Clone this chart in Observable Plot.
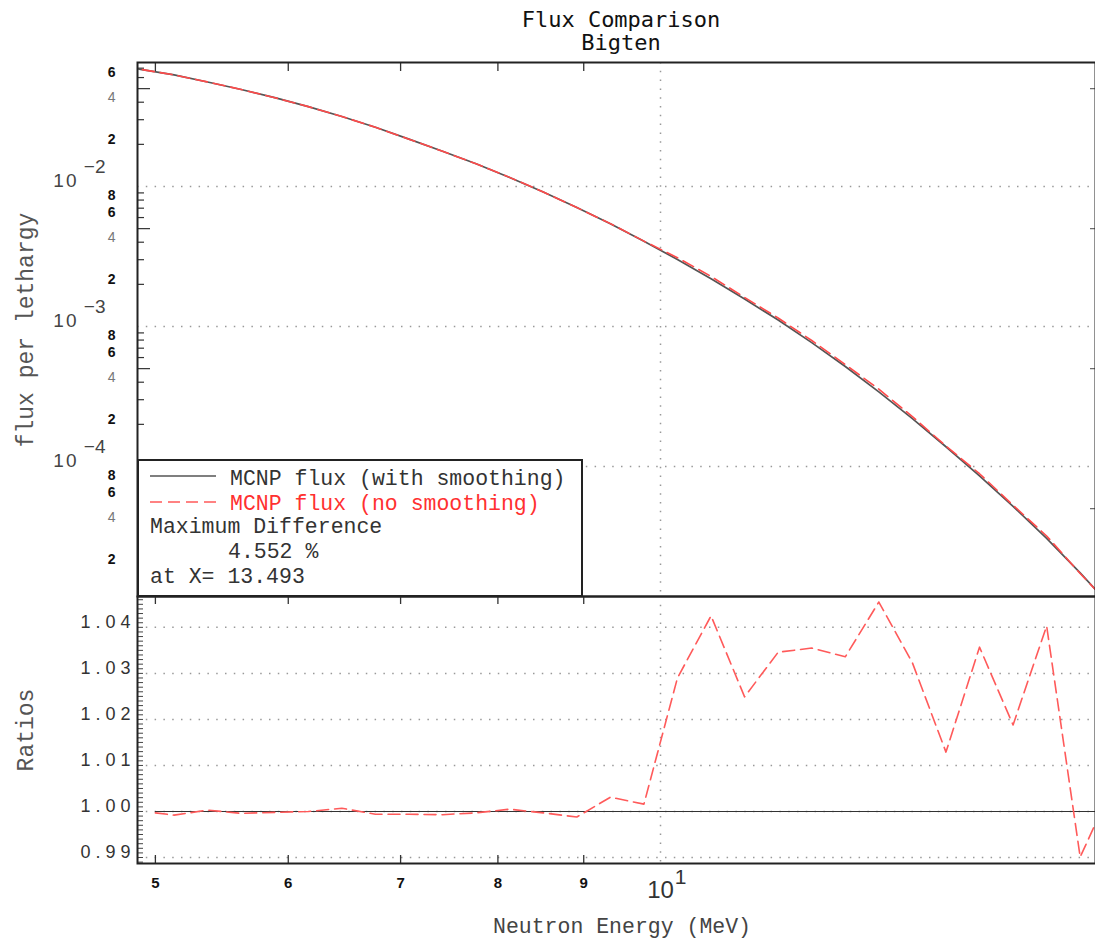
<!DOCTYPE html>
<html>
<head>
<meta charset="utf-8">
<script src="https://cdn.jsdelivr.net/npm/d3@7"></script>
<script src="https://cdn.jsdelivr.net/npm/@observablehq/plot@0.6"></script>
<style>
  html, body { margin: 0; padding: 0; background: #fff; }
  #wrap { position: relative; width: 1095px; height: 941px; overflow: hidden; background: #fff; }
  .abs { position: absolute; white-space: nowrap; }
  .mono { font-family: "Liberation Mono", "DejaVu Sans Mono", monospace; }
  #title { left: 421px; width: 400px; top: 8px; text-align: center; font-family: "DejaVu Sans Mono", monospace; font-size: 22px; line-height: 23px; color: #111; }
  .leg { font-size: 21.5px; line-height: 25px; color: #333; z-index: 5; }
  #legbox { left: 137px; top: 459px; width: 446px; height: 138px; box-sizing: border-box; border: 2px solid #222; background: #fff; z-index: 4; }
  .ytitle { font-size: 23px; color: #555; transform: translate(-50%, -50%) rotate(-90deg); }
</style>
</head>
<body>
<div id="wrap">
  <div id="title" class="abs"><div>Flux Comparison</div><div>Bigten</div></div>
  <div id="topHost" class="abs" style="left:0;top:52px;z-index:1"></div>
  <div id="botHost" class="abs" style="left:0;top:586px;z-index:2"></div>
  <div id="legbox" class="abs"></div>
  <svg class="abs" style="left:150px;top:470px;z-index:5" width="70" height="40">
    <line x1="0" x2="66" y1="6" y2="6" stroke="#555" stroke-width="1.6"></line>
    <line x1="0" x2="66" y1="32" y2="32" stroke="#ff5a5a" stroke-width="1.6" stroke-dasharray="12,6"></line>
  </svg>
  <div class="abs mono leg" style="left:230px;top:467px">MCNP flux (with smoothing)</div>
  <div class="abs mono leg" style="left:230px;top:492px;color:#ff3030">MCNP flux (no smoothing)</div>
  <div class="abs mono leg" style="left:150px;top:515px">Maximum Difference</div>
  <div class="abs mono leg" style="left:228px;top:540px">4.552 %</div>
  <div class="abs mono leg" style="left:150px;top:565px">at X= 13.493</div>
  <div class="abs mono ytitle" style="left:27px;top:330px">flux per lethargy</div>
  <div class="abs mono ytitle" style="left:27px;top:730px">Ratios</div>
  <div class="abs mono" style="left:622px;top:915px;transform:translateX(-50%);font-size:21.5px;line-height:25px;color:#444">Neutron Energy (MeV)</div>
</div>
<script>
// ---------------- data ----------------
const energy = [4.679, 4.899, 5.130, 5.371, 5.625, 5.890, 6.167, 6.458, 6.762, 7.081, 7.415, 7.764, 8.130, 8.514, 8.915, 9.335, 9.775, 10.235, 10.718, 11.223, 11.752, 12.306, 12.886, 13.493, 14.129, 14.795, 15.492, 16.222, 16.987, 17.787, 18.626];
const fluxSmooth = [0.0762, 0.0687, 0.0627, 0.0558, 0.0493, 0.0431, 0.0372, 0.0316, 0.0265, 0.0218, 0.01786, 0.01452, 0.01161, 0.00914, 0.00708, 0.00541, 0.00406, 0.00301, 0.00219, 0.001574, 0.001112, 0.000767, 0.000518, 0.000341, 0.000220, 0.0001384, 0.0000857, 0.0000519, 0.0000307, 0.0000174, 0.00000953];
const fluxNoSmooth = [0.0762, 0.0687, 0.06265, 0.05582, 0.04928, 0.04309, 0.0372, 0.03162, 0.02648, 0.02179, 0.01785, 0.01452, 0.01162, 0.00914, 0.00707, 0.00543, 0.00407, 0.00310, 0.00228, 0.001613, 0.001150, 0.000794, 0.000535, 0.000357, 0.000227, 0.000140, 0.0000888, 0.0000529, 0.0000319, 0.0000172, 0.00000963];
const ratioEnergy = [5.0, 5.130, 5.371, 5.625, 5.890, 6.167, 6.458, 6.762, 7.081, 7.415, 7.764, 8.130, 8.514, 8.915, 9.335, 9.775, 10.235, 10.718, 11.223, 11.752, 12.306, 12.886, 13.493, 14.129, 14.795, 15.492, 16.222, 16.987, 17.787, 18.626];
const ratioNoSmooth = [0.9997, 0.9992, 1.0003, 0.9996, 0.9998, 1.0000, 1.0007, 0.9994, 0.9994, 0.9993, 0.9997, 1.0005, 0.9997, 0.9988, 1.0031, 1.0016, 1.0290, 1.0425, 1.0249, 1.0346, 1.0355, 1.0336, 1.0455, 1.0323, 1.0129, 1.0357, 1.0188, 1.0403, 0.9901, 1.006];
const ratioSmooth = 1.0;

// ---------------- tick labels ----------------
const xTickValues = [5, 6, 7, 8, 9];
const xDecade = [10];
const fluxDecades = [1e-2, 1e-3, 1e-4];
const fluxLabelDark = [0.06, 0.02, 0.008, 0.006, 0.002, 0.0008, 0.0006, 0.0002, 0.00008, 0.00006, 0.00002];
const fluxLabelGrey = [0.04, 0.004, 0.0004, 0.00004];
const ratioTicks = [0.99, 1.00, 1.01, 1.02, 1.03, 1.04];

// ---------------- layout ----------------
const W = 1095, ML = 137, MR = 0;
const plotW = W - ML - MR;
const xDomain = [4.8787, 18.165];
const topH = 534, botH = 267;
const grid = {stroke: "#999", strokeWidth: 1.5, strokeDasharray: "1.5,7.3"};
const leadDigit = d => String(Math.round(d / Math.pow(10, Math.floor(Math.log10(d) + 1e-9))));

const fluxRows = energy.map((e, i) => ({e, s: fluxSmooth[i], n: fluxNoSmooth[i]}));
const ratioRows = ratioEnergy.map((e, i) => ({e, r: ratioNoSmooth[i]}));

const minorFlux = [];
[1e-5, 1e-4, 1e-3, 1e-2].forEach(k => { for (let m = 2; m <= 9; m++) { const v = m * k; if (v > 1.18e-5 && v < 0.0768 && m !== 5) minorFlux.push(v); } });
const fiveFlux = [5e-5, 5e-4, 5e-3, 5e-2];

const topPlot = Plot.plot({
  width: W, height: topH + 10, marginTop: 10, marginBottom: 0, marginLeft: ML, marginRight: MR,
  style: {overflow: "visible", background: "transparent"},
  x: {type: "log", domain: xDomain, axis: null, label: null},
  y: {type: "log", domain: [1.1787e-5, 0.07686], axis: null, label: null},
  marks: [
    Plot.ruleY(fluxDecades, grid),
    Plot.ruleX(xDecade, grid),
    Plot.tickY(minorFlux, {y: d => d, stroke: "#333", strokeWidth: 1.2, insetRight: plotW - 7}),
    Plot.tickY(fiveFlux, {y: d => d, stroke: "#333", strokeWidth: 1.2, insetRight: plotW - 13}),
    Plot.tickY(fiveFlux, {y: d => d, stroke: "#666", strokeWidth: 1.2, insetLeft: plotW - 5}),
    Plot.tickX(xTickValues, {x: d => d, stroke: "#333", strokeWidth: 1.3, insetBottom: topH - 9}),
    Plot.line(fluxRows, {x: "e", y: "s", stroke: "#555", strokeWidth: 1.7, clip: true}),
    Plot.line(fluxRows, {x: "e", y: "n", stroke: "#ff4a4a", strokeWidth: 1.6, strokeDasharray: "12,6", clip: true}),
    Plot.text(fluxLabelDark, {y: d => d, text: leadDigit, frameAnchor: "left", textAnchor: "end", dx: -22, dy: -5, fontSize: 14, fontWeight: "bold", fontFamily: "Liberation Sans", fill: "#111"}),
    Plot.text(fluxLabelGrey, {y: d => d, text: leadDigit, frameAnchor: "left", textAnchor: "end", dx: -22, dy: -5, fontSize: 14, fontFamily: "Liberation Sans", fill: "#777"}),
    Plot.text(fluxDecades, {y: d => d, text: () => "10", frameAnchor: "left", textAnchor: "end", dx: -59, dy: -6, fontSize: 19, fontFamily: "Liberation Sans", fill: "#444"}),
    Plot.text(fluxDecades, {y: d => d, text: d => "\u2212" + Math.round(-Math.log10(d)), frameAnchor: "left", textAnchor: "end", dx: -32, dy: -20, fontSize: 19, fontFamily: "Liberation Sans", fill: "#444"}),
    Plot.frame({stroke: "#222", strokeWidth: 2})
  ]
});

const ratioMinor = d3.range(989, 1047).map(v => v / 1000);

const botPlot = Plot.plot({
  width: W, height: botH + 10 + 78, marginTop: 10, marginBottom: 78, marginLeft: ML, marginRight: MR,
  style: {overflow: "visible", background: "transparent"},
  x: {type: "log", domain: xDomain, axis: null, label: null},
  y: {domain: [0.9887, 1.0467], axis: null, label: null},
  marks: [
    Plot.ruleY(ratioTicks, grid),
    Plot.ruleX(xDecade, grid),
    Plot.tickY(ratioMinor, {y: d => d, stroke: "#444", strokeWidth: 1, insetRight: plotW - 6}),
    Plot.tickX(xTickValues, {x: d => d, stroke: "#333", strokeWidth: 1.3, insetBottom: botH - 8}),
    Plot.tickX(xTickValues, {x: d => d, stroke: "#333", strokeWidth: 1.3, insetTop: botH - 8}),
    Plot.ruleY([ratioSmooth], {x1: ratioEnergy[0], x2: ratioEnergy[ratioEnergy.length - 1], stroke: "#333", strokeWidth: 1.2, clip: true}),
    Plot.line(ratioRows, {x: "e", y: "r", stroke: "#ff5a5a", strokeWidth: 1.6, strokeDasharray: "12,6", clip: true}),
    Plot.axisY({ticks: ratioTicks, label: null, tickSize: 0, tickPadding: 2, tickFormat: d3.format(".2f"), fontSize: 18, fontFamily: "Liberation Sans", fill: "#333", dy: -5}),
    Plot.text(xTickValues, {x: d => d, text: d => String(d), frameAnchor: "bottom", lineAnchor: "top", dy: 14, fontSize: 15, fontWeight: "bold", fontFamily: "Liberation Sans", fill: "#111"}),
    Plot.text(xDecade, {x: d => d, text: () => "10", frameAnchor: "bottom", lineAnchor: "top", dy: 17, fontSize: 24, fontFamily: "Liberation Sans", fill: "#333"}),
    Plot.text(xDecade, {x: d => d, text: () => "1", frameAnchor: "bottom", lineAnchor: "top", dx: 20, dy: 6, fontSize: 21, fontFamily: "Liberation Sans", fill: "#333"}),
    Plot.frame({stroke: "#222", strokeWidth: 2})
  ]
});

document.getElementById("topHost").appendChild(topPlot);
document.getElementById("botHost").appendChild(botPlot);

// letter spacing for the wide ratio labels and the decade labels
d3.select(botPlot).selectAll('g[aria-label="y-axis tick label"] text').style("letter-spacing", "5px");
d3.select(topPlot).selectAll("text").filter(function () { return this.textContent === "10"; }).style("letter-spacing", "2px");
</script>
</body>
</html>
